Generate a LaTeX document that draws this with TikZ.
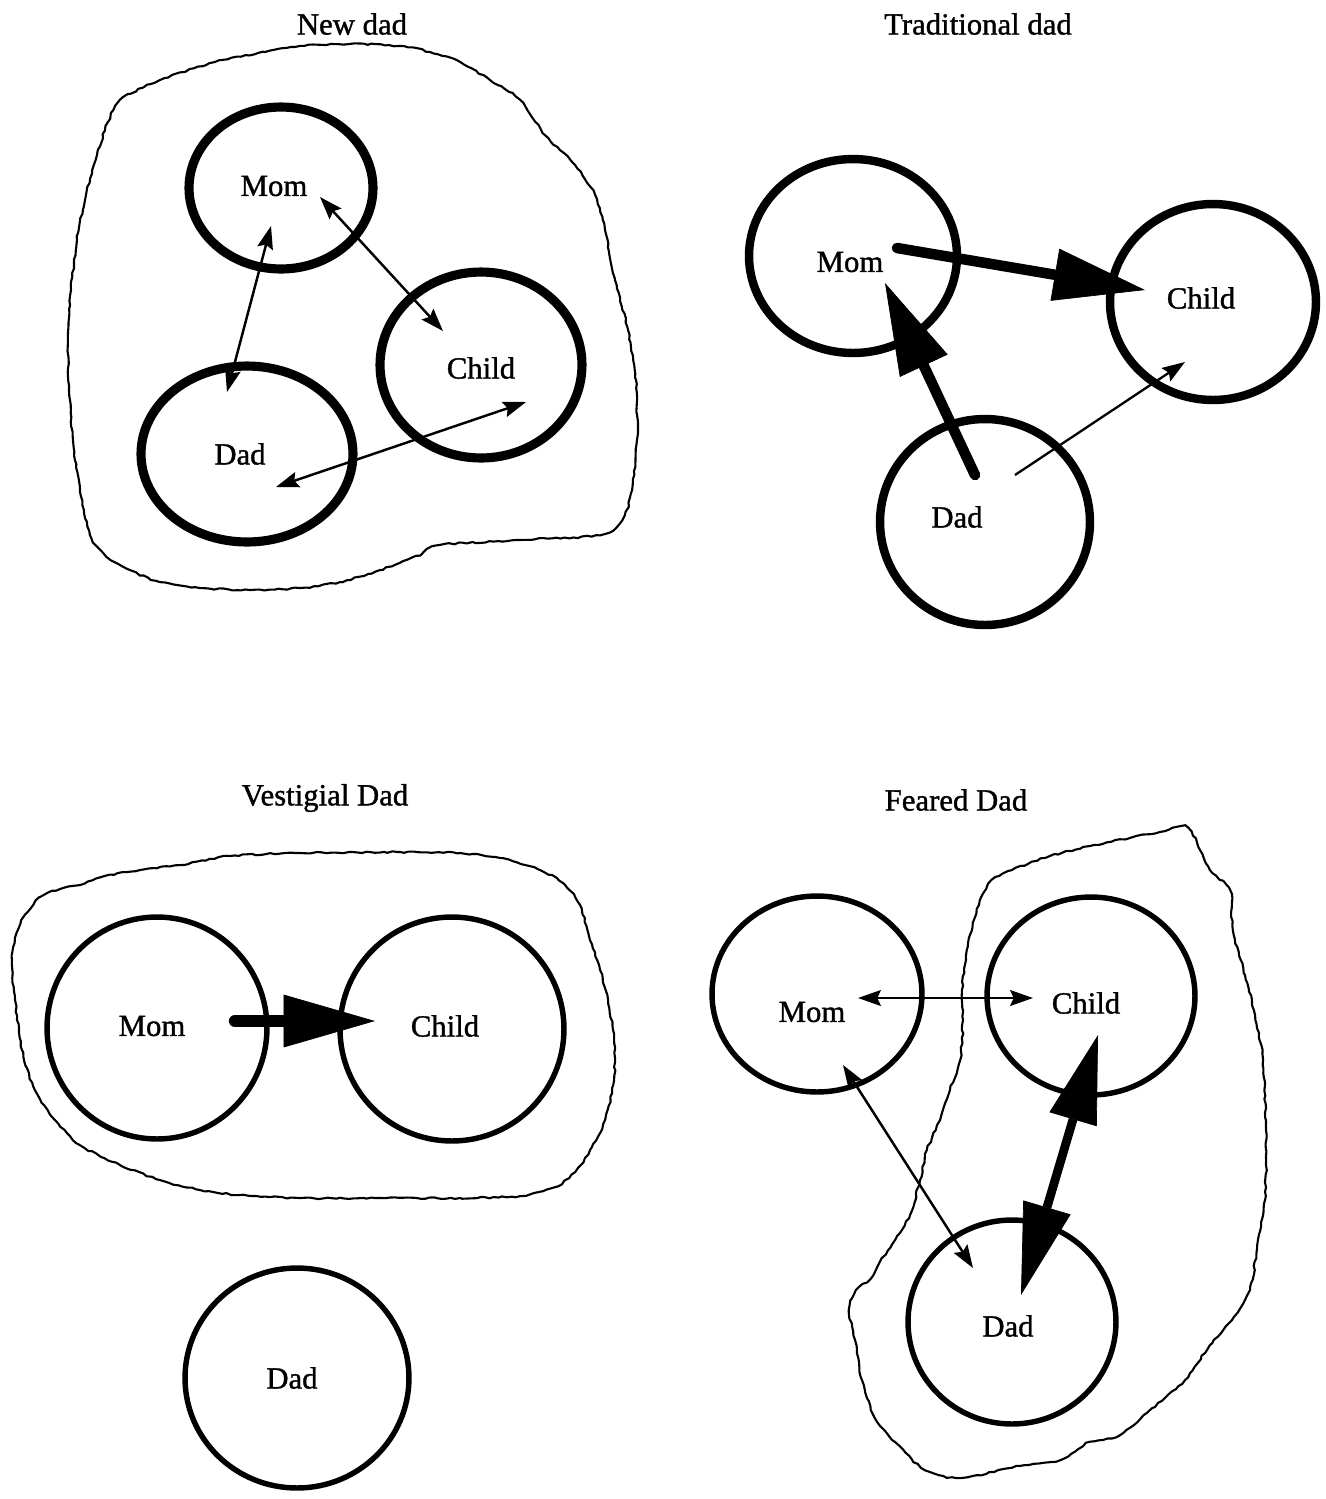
\documentclass[tikz,border=0pt]{standalone}
\usepackage{fontspec}
\setmainfont{Liberation Serif}[FakeBold=1.2]
\usetikzlibrary{arrows.meta,shapes.geometric,decorations.pathmorphing}
\begin{document}
\begin{tikzpicture}[x=0.02cm,y=-0.02cm,
  txt/.style={inner sep=0pt, font=\fontsize{17.5}{20}\selectfont},
  ttl/.style={inner sep=0pt, font=\fontsize{17.5}{20}\selectfont},
  thickring/.style={draw, ellipse, inner sep=0pt, line width=5.2pt},
  thinring/.style={draw, ellipse, inner sep=0pt, line width=3.1pt},
  blob/.style={draw, line width=1.2pt, line join=round,
    decorate, decoration={random steps, segment length=2.5pt, amplitude=0.5pt}},
  dbl/.style={line width=1.4pt, {Stealth[length=13pt,width=9pt,inset=2pt]}-{Stealth[length=13pt,width=9pt,inset=2pt]}},
  sgl/.style={line width=1.3pt, -{Stealth[length=13pt,width=9pt,inset=2pt]}},
  big/.style={line width=6pt, line cap=round, -{Triangle[length=52pt,width=30pt,line width=0.4pt]}},
  bigdbl/.style={line width=5pt, {Triangle[length=50pt,width=28pt,line width=0.4pt]}-{Triangle[length=52pt,width=28pt,line width=0.4pt]}}
]
\path[use as bounding box] (0,0) rectangle (1326,1499);

% ---------- titles
\node[ttl] (t1) at (352,24) {New dad};
\node[ttl] (t2) at (978,24) {Traditional dad};
\node[ttl] (t3) at (325,798) {Vestigial Dad};
\node[ttl] (t4) at (956,800) {Feared Dad};

% ---------- Panel 1: New dad
\draw[blob] plot[smooth cycle, tension=0.5] coordinates {
 (120,100) (160,80) (215,62) (265,52) (300,46) (350,44) (400,46) (430,52)
 (460,62) (490,80) (520,100) (545,135) (575,165) (595,195) (605,230)
 (615,280) (628,330) (636,380) (637,440) (632,490) (622,520) (600,535)
 (520,540) (440,545) (420,555) (380,570) (340,582) (300,588) (250,590)
 (200,588) (160,582) (130,570) (105,555) (90,535) (80,490) (73,440)
 (69,390) (68,340) (71,290) (77,240) (86,195) (97,155) (108,122)};
\node[thickring, minimum width=3.68cm, minimum height=3.24cm] (m1) at (281,188) {};
\node[thickring, minimum width=4.04cm, minimum height=3.72cm] (c1) at (481,365) {};
\node[thickring, minimum width=4.24cm, minimum height=3.52cm] (d1) at (247,454) {};
\node[txt] (m1l) at (274,186) {Mom};
\node[txt] (c1l) at (481,368) {Child};
\node[txt] (d1l) at (240,454) {Dad};
\coordinate (p1a) at (271,226); \coordinate (p1b) at (227,392);
\coordinate (p1c) at (320,197); \coordinate (p1d) at (443,331);
\coordinate (p1e) at (276,487); \coordinate (p1f) at (526,402);
\draw[dbl] (p1a) -- (p1b);
\draw[dbl] (p1c) -- (p1d);
\draw[dbl] (p1e) -- (p1f);

% ---------- Panel 2: Traditional dad
\node[thickring, line width=4.8pt, minimum width=4.16cm, minimum height=3.88cm] (m2) at (853,256) {};
\node[thickring, line width=4.8pt, minimum width=4.12cm, minimum height=3.92cm] (c2) at (1213,302) {};
\node[thickring, line width=4.8pt, minimum width=4.20cm, minimum height=4.12cm] (d2) at (985,522) {};
\node[txt] (m2l) at (850,262) {Mom};
\node[txt] (c2l) at (1201,298) {Child};
\node[txt] (d2l) at (957,517) {Dad};
\coordinate (p2a) at (897,248); \coordinate (p2b) at (1145,290);
\coordinate (p2c) at (975,475); \coordinate (p2d) at (885,283);
\coordinate (p2e) at (1015,475); \coordinate (p2f) at (1185,362);
\draw[big] (p2a) -- (p2b);
\draw[big] (p2c) -- (p2d);
\draw[sgl] (p2e) -- (p2f);

% ---------- Panel 3: Vestigial Dad
\draw[blob] plot[smooth cycle, tension=0.5] coordinates {
 (25,915) (40,897) (60,889) (80,885) (105,876) (140,870) (180,865)
 (230,856) (300,853) (400,852) (460,853) (500,858) (540,870) (565,885)
 (580,905) (590,940) (600,970) (608,1000) (614,1040) (614,1080)
 (605,1120) (590,1150) (575,1172) (555,1187) (520,1196) (460,1198)
 (380,1198) (300,1198) (240,1195) (200,1190) (160,1180) (120,1165)
 (80,1145) (55,1120) (35,1090) (22,1050) (15,1000) (12,960) (17,932)};
\node[thinring, minimum width=4.40cm, minimum height=4.44cm] (m3) at (157,1028) {};
\node[thinring, minimum width=4.48cm, minimum height=4.48cm] (c3) at (452,1029) {};
\node[thinring, minimum width=4.48cm, minimum height=4.40cm] (d3) at (297,1378) {};
\node[txt] (m3l) at (152,1026) {Mom};
\node[txt] (c3l) at (445,1026) {Child};
\node[txt] (d3l) at (292,1378) {Dad};
\coordinate (p3a) at (235,1021); \coordinate (p3b) at (375,1021);
\draw[big, line width=7pt] (p3a) -- (p3b);

% ---------- Panel 4: Feared Dad
\draw[blob] plot[smooth cycle, tension=0.5] coordinates {
 (1188,828) (1210,870) (1230,890) (1233,930) (1245,975) (1255,1015)
 (1263,1060) (1266,1130) (1265,1200) (1258,1240) (1250,1290) (1232,1320)
 (1210,1345) (1185,1380) (1150,1410) (1120,1435) (1090,1442) (1060,1460)
 (1020,1466) (960,1478) (925,1470) (895,1442) (875,1418) (862,1380)
 (855,1340) (849,1310) (856,1290) (870,1279) (880,1262) (895,1240)
 (910,1215) (920,1180) (927,1150) (940,1120) (950,1090) (960,1060)
 (963,1020) (962,990) (966,960) (970,935) (980,900) (992,880) (1012,870)
 (1050,856) (1090,846) (1130,838) (1160,832)};
\node[thinring, minimum width=4.20cm, minimum height=3.92cm] (m4) at (817,994) {};
\node[thinring, minimum width=4.16cm, minimum height=3.96cm] (c4) at (1091,996) {};
\node[thinring, minimum width=4.16cm, minimum height=4.08cm] (d4) at (1012,1322) {};
\node[txt] (m4l) at (812,1012) {Mom};
\node[txt] (c4l) at (1086,1003) {Child};
\node[txt] (d4l) at (1008,1326) {Dad};
\coordinate (p4a) at (858,998); \coordinate (p4b) at (1033,998);
\coordinate (p4c) at (843,1065); \coordinate (p4d) at (973,1268);
\coordinate (p4e) at (1098,1035); \coordinate (p4f) at (1021,1295);
\draw[dbl] (p4a) -- (p4b);
\draw[dbl] (p4c) -- (p4d);
\draw[bigdbl] (p4e) -- (p4f);
\end{tikzpicture}
\end{document}
